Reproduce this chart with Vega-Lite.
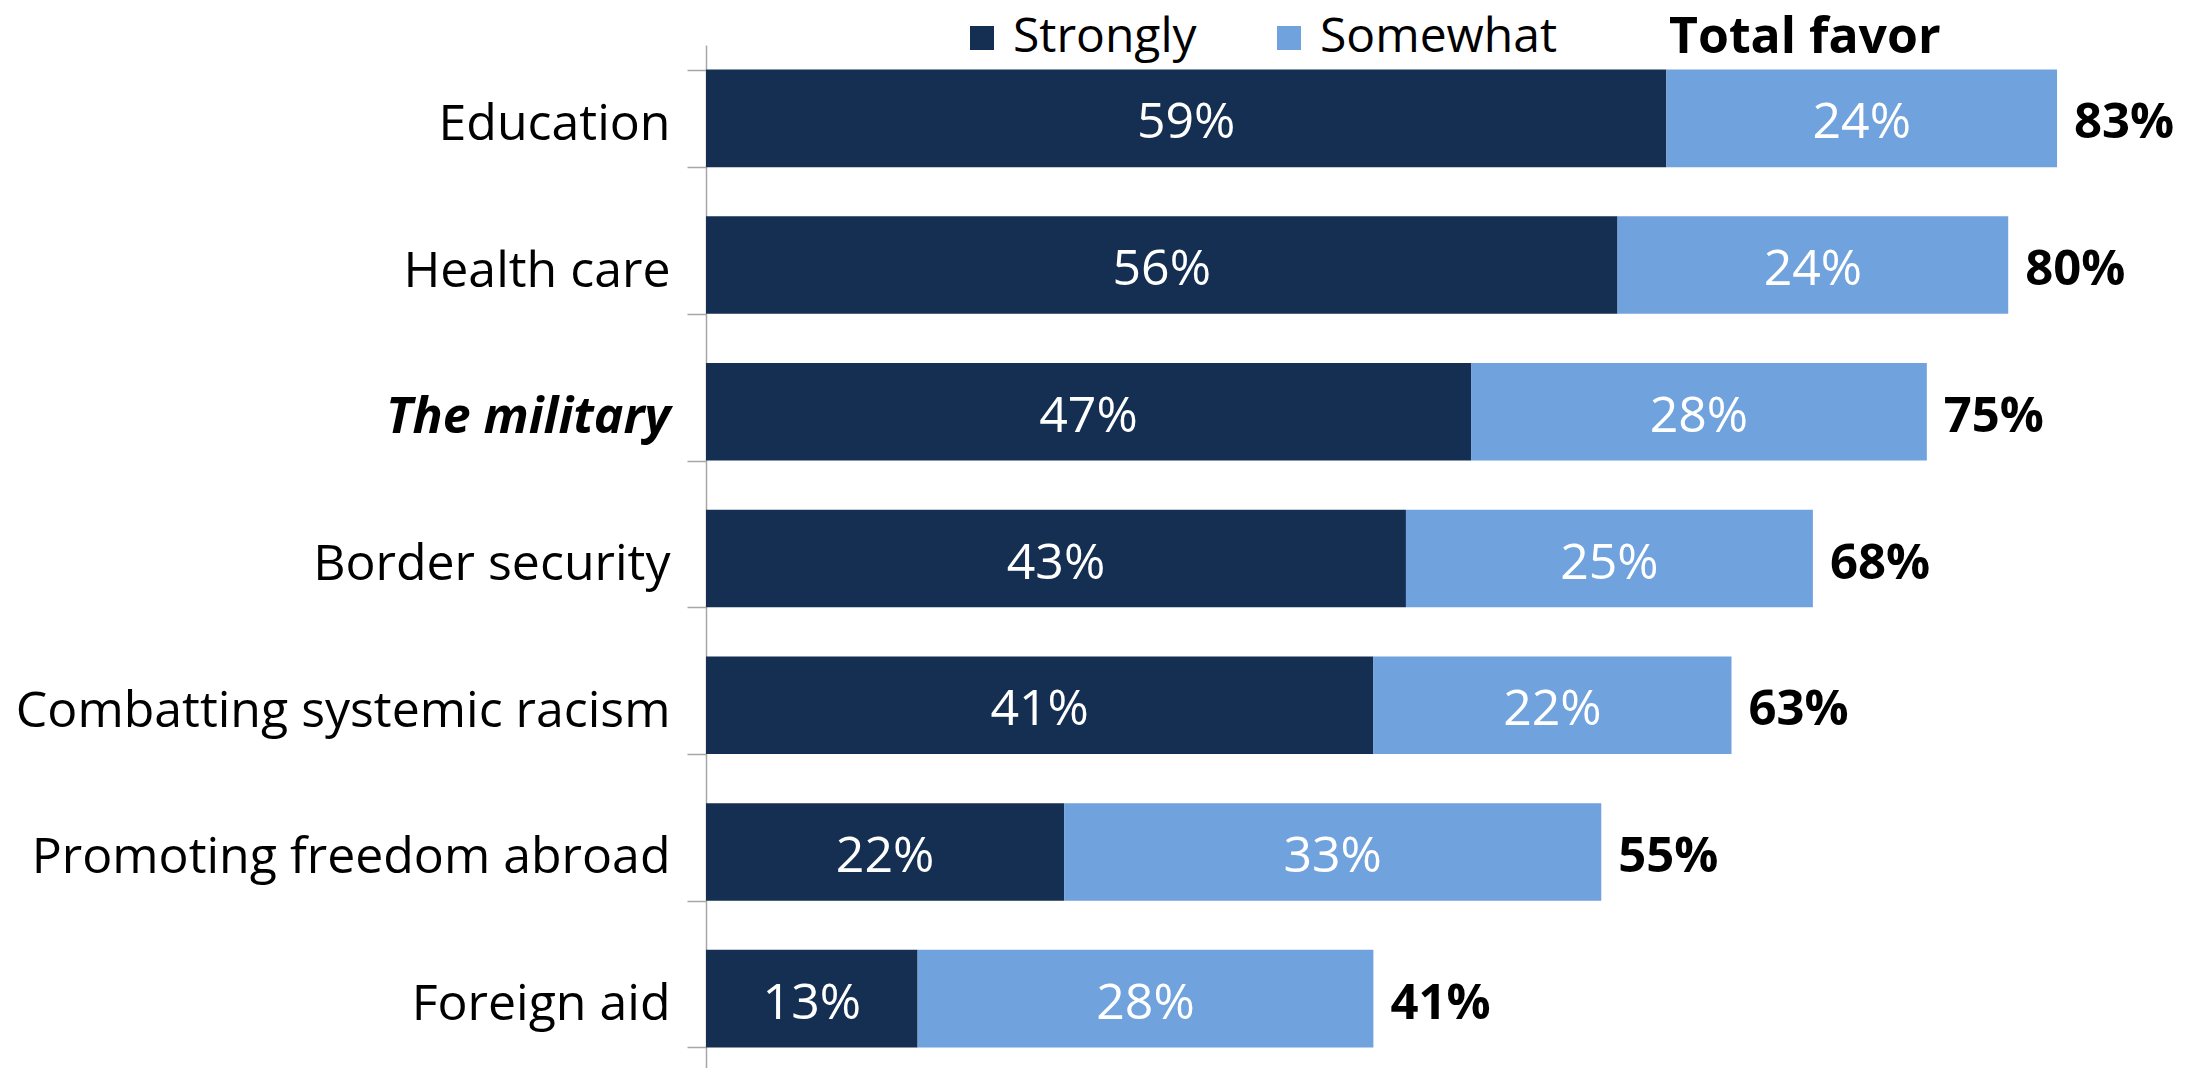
{
  "$schema": "https://vega.github.io/schema/vega-lite/v6.json",
  "width": 1465,
  "height": 1027,
  "autosize": {"type": "none"},
  "padding": {"left": 706, "top": 45, "right": 31, "bottom": 0},
  "background": "white",
  "config": {"font": "Open Sans", "view": {"stroke": null}},
  "data": {
    "values": [
      {"category": "Education", "response": "Strongly", "value": 0.59},
      {"category": "Education", "response": "Somewhat", "value": 0.24},
      {"category": "Health care", "response": "Strongly", "value": 0.56},
      {"category": "Health care", "response": "Somewhat", "value": 0.24},
      {"category": "The military", "response": "Strongly", "value": 0.47},
      {"category": "The military", "response": "Somewhat", "value": 0.28},
      {"category": "Border security", "response": "Strongly", "value": 0.43},
      {"category": "Border security", "response": "Somewhat", "value": 0.25},
      {"category": "Combatting systemic racism", "response": "Strongly", "value": 0.41},
      {"category": "Combatting systemic racism", "response": "Somewhat", "value": 0.22},
      {"category": "Promoting freedom abroad", "response": "Strongly", "value": 0.22},
      {"category": "Promoting freedom abroad", "response": "Somewhat", "value": 0.33},
      {"category": "Foreign aid", "response": "Strongly", "value": 0.13},
      {"category": "Foreign aid", "response": "Somewhat", "value": 0.28}
    ]
  },
  "transform": [
    {"stack": "value", "groupby": ["category"], "sort": [{"field": "response", "order": "descending"}], "as": ["x0", "x1"]},
    {"calculate": "(datum.x0 + datum.x1) / 2", "as": "mid"}
  ],
  "encoding": {
    "y": {
      "field": "category",
      "type": "nominal",
      "sort": ["Education", "Health care", "The military", "Border security", "Combatting systemic racism", "Promoting freedom abroad", "Foreign aid"],
      "scale": {"paddingInner": 0.335, "paddingOuter": 0.1675},
      "axis": {
        "title": null,
        "domainColor": "#A6A6A6",
        "domainWidth": 1.5,
        "tickColor": "#A6A6A6",
        "tickWidth": 1.5,
        "tickSize": 19,
        "tickBand": "extent",
        "labelFontSize": 50,
        "labelColor": "black",
        "labelPadding": 17,
        "labelOffset": 6,
        "labelLimit": 1000,
        "labelFontWeight": {"condition": {"test": "datum.value === 'The military'", "value": "bold"}, "value": "normal"},
        "labelFontStyle": {"condition": {"test": "datum.value === 'The military'", "value": "italic"}, "value": "normal"}
      }
    }
  },
  "layer": [
    {
      "mark": {"type": "bar"},
      "encoding": {
        "x": {"field": "x0", "type": "quantitative", "scale": {"domain": [0, 0.9]}, "axis": null},
        "x2": {"field": "x1"},
        "color": {
          "field": "response",
          "type": "nominal",
          "scale": {"domain": ["Strongly", "Somewhat"], "range": ["#142F52", "#70A2DE"]},
          "legend": {
            "orient": "none",
            "legendX": 252,
            "legendY": -31,
            "direction": "horizontal",
            "symbolType": "square",
            "symbolSize": 576,
            "symbolStrokeWidth": 0,
            "labelFontSize": 48,
            "labelColor": "black",
            "labelOffset": 7,
            "labelLimit": 1000,
            "columnPadding": 68,
            "title": "Total favor",
            "titleOrient": "right",
            "titleFontSize": 50,
            "titleFontWeight": "bold",
            "titleColor": "black",
            "titleLimit": 1000,
            "titlePadding": 112
          }
        }
      }
    },
    {
      "mark": {"type": "text", "color": "white", "fontSize": 50, "align": "center", "baseline": "middle", "dy": 5},
      "encoding": {
        "x": {"field": "mid", "type": "quantitative"},
        "text": {"field": "value", "type": "quantitative", "format": ".0%"}
      }
    },
    {
      "transform": [{"filter": "datum.response === 'Somewhat'"}],
      "mark": {"type": "text", "color": "black", "fontSize": 49, "fontWeight": "bold", "align": "left", "baseline": "middle", "dx": 17, "dy": 5},
      "encoding": {
        "x": {"field": "x1", "type": "quantitative"},
        "text": {"field": "x1", "type": "quantitative", "format": ".0%"}
      }
    }
  ]
}
